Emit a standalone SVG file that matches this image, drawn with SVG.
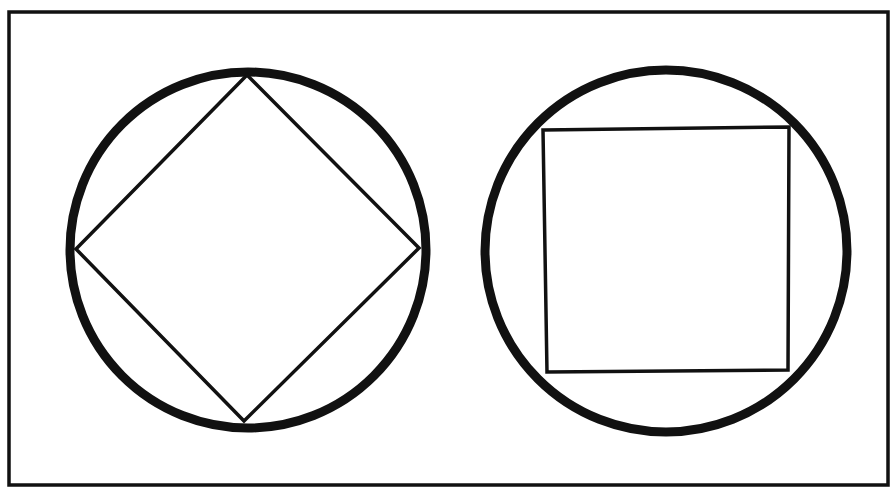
<svg xmlns="http://www.w3.org/2000/svg" width="890" height="488" viewBox="0 0 890 488">
<style>
.ring{fill:none;stroke:#111;stroke-width:9}
.line{fill:none;stroke:#111;stroke-width:3.5;stroke-linejoin:miter}
.frame{fill:none;stroke:#111;stroke-width:3.5}
</style>
<rect width="890" height="488" fill="#fff"/>
<rect class="frame" x="9" y="12" width="879" height="473"/>
<g id="left">
<circle class="ring" cx="248" cy="250" r="178"/>
<polygon class="line" points="247,75 419,248 244,421 76,249"/>
</g>
<g id="right">
<circle class="ring" cx="666" cy="251" r="181"/>
<polygon class="line" points="543,130 789,127 788,370 547,372"/>
</g>
</svg>
